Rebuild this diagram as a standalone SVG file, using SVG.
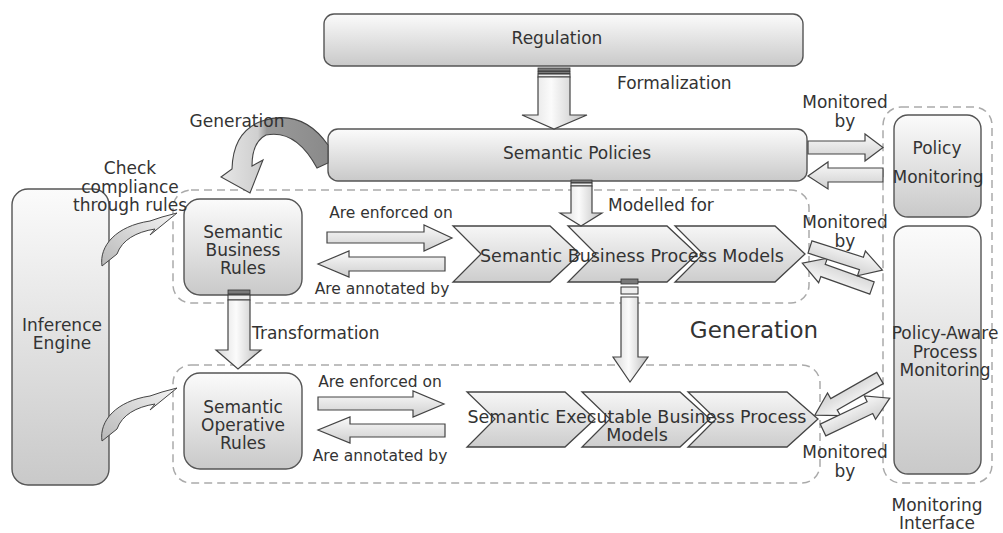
<svg xmlns="http://www.w3.org/2000/svg" width="1003" height="533" viewBox="0 0 1003 533">
<defs>
<linearGradient id="boxG" x1="0" y1="0" x2="0" y2="1"><stop offset="0" stop-color="#fbfbfb"/><stop offset="1" stop-color="#c9c9c9"/></linearGradient>
<linearGradient id="chevG" x1="0" y1="0" x2="0" y2="1"><stop offset="0" stop-color="#f6f6f6"/><stop offset="1" stop-color="#cdcdcd"/></linearGradient>
<linearGradient id="harrG" x1="0" y1="0" x2="0" y2="1"><stop offset="0" stop-color="#fafafa"/><stop offset="1" stop-color="#cfcfcf"/></linearGradient>
<linearGradient id="varrG" x1="0" y1="0" x2="1" y2="0"><stop offset="0" stop-color="#d8d8d8"/><stop offset="0.45" stop-color="#fbfbfb"/><stop offset="1" stop-color="#bdbdbd"/></linearGradient>
<linearGradient id="curlG" x1="0" y1="1" x2="1" y2="0"><stop offset="0" stop-color="#b8b8b8"/><stop offset="1" stop-color="#f4f4f4"/></linearGradient>
<linearGradient id="genG" gradientUnits="userSpaceOnUse" x1="225" y1="0" x2="335" y2="0"><stop offset="0" stop-color="#e4e4e4"/><stop offset="0.3" stop-color="#cfcfcf"/><stop offset="0.38" stop-color="#9a9a9a"/><stop offset="1" stop-color="#888"/></linearGradient>
<style>
.box{fill:url(#boxG);stroke:#555;stroke-width:1.4}
.chev{fill:url(#chevG);stroke:#444;stroke-width:1.3}
.grp{fill:none;stroke:#aaa;stroke-width:1.5;stroke-dasharray:8 5}
.ha{fill:url(#harrG);stroke:#444;stroke-width:1.2}
.va{fill:url(#varrG);stroke:#444;stroke-width:1.2}
.strA{fill:#7a7a7a;stroke:#333;stroke-width:0.8}
.strB{fill:#eee;stroke:#333;stroke-width:1}
.curl{fill:url(#curlG);stroke:#444;stroke-width:1}
text{font-family:"DejaVu Sans","Liberation Sans",sans-serif;fill:#333}
.t{font-size:17px}
.s{font-size:15.5px}
.m{text-anchor:middle}
</style>
</defs>

<!-- dashed groups -->
<g id="group-business"><rect class="grp" x="173" y="190" width="636" height="113" rx="18"/></g>
<g id="group-operative"><rect class="grp" x="173" y="365" width="647" height="118" rx="18"/></g>
<g id="group-monitoring"><rect class="grp" x="883" y="107" width="109" height="376" rx="18"/>
<text class="t m" x="937" y="511">Monitoring</text><text class="t m" x="937" y="529">Interface</text></g>

<g id="regulation"><rect class="box" x="324" y="14" width="479" height="52" rx="10"/><text class="t m" x="557" y="44">Regulation</text></g>
<g id="semantic-policies"><rect class="box" x="328" y="129" width="479" height="52" rx="10"/><text class="t m" x="577" y="159">Semantic Policies</text></g>
<g id="inference-engine"><rect class="box" x="12" y="189" width="97" height="296" rx="16"/><text class="t m" x="62" y="331">Inference</text><text class="t m" x="62" y="349">Engine</text></g>
<g id="semantic-business-rules"><rect class="box" x="184" y="199" width="118" height="96" rx="16"/><text class="t m" x="243" y="238">Semantic</text><text class="t m" x="243" y="256">Business</text><text class="t m" x="243" y="274">Rules</text></g>
<g id="semantic-operative-rules"><rect class="box" x="184" y="373" width="118" height="96" rx="16"/><text class="t m" x="243" y="413">Semantic</text><text class="t m" x="243" y="431">Operative</text><text class="t m" x="243" y="449">Rules</text></g>
<g id="semantic-bpm">
  <path class="chev" d="M453,226 L550,226 L580,254 L550,282 L453,282 L481,254 Z"/>
  <path class="chev" d="M568,226 L667,226 L697,254 L667,282 L568,282 L596,254 Z"/>
  <path class="chev" d="M675,226 L775,226 L805,254 L775,282 L675,282 L703,254 Z"/>
  <text x="632" y="262" font-size="17.5" text-anchor="middle">Semantic Business Process Models</text>
</g>
<g id="semantic-executable-bpm">
  <path class="chev" d="M467,392 L565,392 L595,419 L565,447 L467,447 L495,419 Z"/>
  <path class="chev" d="M582,392 L680,392 L710,419 L680,447 L582,447 L610,419 Z"/>
  <path class="chev" d="M688,392 L787,392 L818,419 L787,447 L688,447 L716,419 Z"/>
  <text x="637" y="423" font-size="17.5" text-anchor="middle">Semantic Executable Business Process</text>
  <text x="637" y="441" font-size="17.5" text-anchor="middle">Models</text>
</g>
<g id="policy-monitoring"><rect class="box" x="894" y="115" width="87" height="102" rx="14"/><text class="t m" x="937" y="154">Policy</text><text class="t m" x="938" y="183">Monitoring</text></g>
<g id="policy-aware-monitoring"><rect class="box" x="894" y="226" width="87" height="248" rx="14"/><text class="t m" x="945" y="339">Policy-Aware</text><text class="t m" x="945" y="358">Process</text><text class="t m" x="945" y="376">Monitoring</text></g>

<g id="connectors">
  <!-- Generation curved arrow -->
  <path d="M328,145 Q302,108 262,121 Q233,131 232,169 L221,177 L250,193 L263,160 L252,166 Q252,142 266,135 Q296,129 317,168 L328,163 Z" fill="url(#genG)" stroke="#444" stroke-width="1.1"/>
  <text class="t m" x="237" y="127">Generation</text>

  <!-- Formalization -->
  <rect class="strA" x="538" y="68" width="32" height="3"/>
  <rect class="strA" x="538" y="71.5" width="32" height="2"/>
  <rect class="strB" x="538" y="74" width="32" height="3"/>
  <path class="va" d="M538,77 L570,77 L570,115 L587,115 L554,129 L522,115 L538,115 Z"/>
  <text class="t" x="617" y="89">Formalization</text>

  <!-- Modelled for -->
  <rect class="strA" x="571" y="180" width="21" height="3"/>
  <rect class="strB" x="571" y="183" width="21" height="3"/>
  <path class="va" d="M571,186 L592,186 L592,213 L602,213 L581,226 L560,213 L571,213 Z"/>
  <text class="t" x="608" y="211">Modelled for</text>

  <!-- Transformation -->
  <rect class="strA" x="228" y="290" width="22" height="4"/>
  <rect class="strB" x="228" y="295" width="22" height="5"/>
  <path class="va" d="M228,300 L250,300 L250,350 L261,350 L238,369 L216,350 L228,350 Z"/>
  <text class="t" x="252" y="339">Transformation</text>

  <!-- Generation vertical -->
  <rect class="strA" x="621" y="279" width="17" height="5"/>
  <rect class="strB" x="621" y="287" width="17" height="7"/>
  <path class="va" d="M621,297 L638,297 L638,357 L648,357 L630,382 L613,357 L621,357 Z"/>
  <text x="754" y="338" font-size="23" text-anchor="middle">Generation</text>

  <!-- row 1 horizontal arrows -->
  <path class="ha" d="M327,232 L424,232 L424,225 L452,238 L424,251 L424,243 L327,243 Z"/>
  <path class="ha" d="M445,257 L349,257 L349,251 L318,264 L349,277 L349,271 L445,271 Z"/>
  <text class="s m" x="391" y="218">Are enforced on</text>
  <text class="s m" x="382" y="294">Are annotated by</text>

  <!-- row 2 horizontal arrows -->
  <path class="ha" d="M318,397 L413,397 L413,391 L444,404 L413,417 L413,410 L318,410 Z"/>
  <path class="ha" d="M445,424 L350,424 L350,417 L318,430 L350,443 L350,437 L445,437 Z"/>
  <text class="s m" x="380" y="387">Are enforced on</text>
  <text class="s m" x="380" y="461">Are annotated by</text>

  <!-- policies <-> policy monitoring -->
  <path class="ha" d="M808,141 L865,141 L865,134 L883,147.5 L865,161 L865,154 L808,154 Z"/>
  <path class="ha" d="M883,168 L828,168 L828,162 L808,176 L828,189 L828,182 L883,182 Z"/>
  <text class="t m" x="845" y="108">Monitored</text><text class="t m" x="845" y="127">by</text>

  <!-- BPM <-> policy-aware -->
  <path class="ha" transform="translate(872,288) rotate(199.65)" d="M0,-6.5 L52,-6.5 L52,-13 L74,0 L52,13 L52,6.5 L0,6.5 Z"/>
  <path class="ha" transform="translate(810,247) rotate(17.7)" d="M0,-6.5 L54,-6.5 L54,-13 L76,0 L54,13 L54,6.5 L0,6.5 Z"/>
  <text class="t m" x="845" y="228">Monitored</text><text class="t m" x="845" y="247">by</text>

  <!-- executable <-> policy-aware -->
  <path class="ha" transform="translate(880,378) rotate(150.3)" d="M0,-6.5 L53,-6.5 L53,-13 L75,0 L53,13 L53,6.5 L0,6.5 Z"/>
  <path class="ha" transform="translate(823,430) rotate(-25.5)" d="M0,-6.5 L52,-6.5 L52,-13 L74,0 L52,13 L52,6.5 L0,6.5 Z"/>
  <text class="t m" x="845" y="458">Monitored</text><text class="t m" x="845" y="477">by</text>

  <!-- inference curls -->
  <path class="curl" d="M102,266 C99,246 116,226 150,221 L162,217 L177,213 L150,235 L155,229 C136,232 122,240 117,254 Z"/>
  <path class="curl" transform="translate(0,175)" d="M102,266 C99,246 116,226 150,221 L162,217 L177,213 L150,235 L155,229 C136,232 122,240 117,254 Z"/>
  <text class="t m" x="130" y="174">Check</text>
  <text class="t m" x="130" y="193">compliance</text>
  <text class="t m" x="130" y="211">through rules</text>
</g>
</svg>
